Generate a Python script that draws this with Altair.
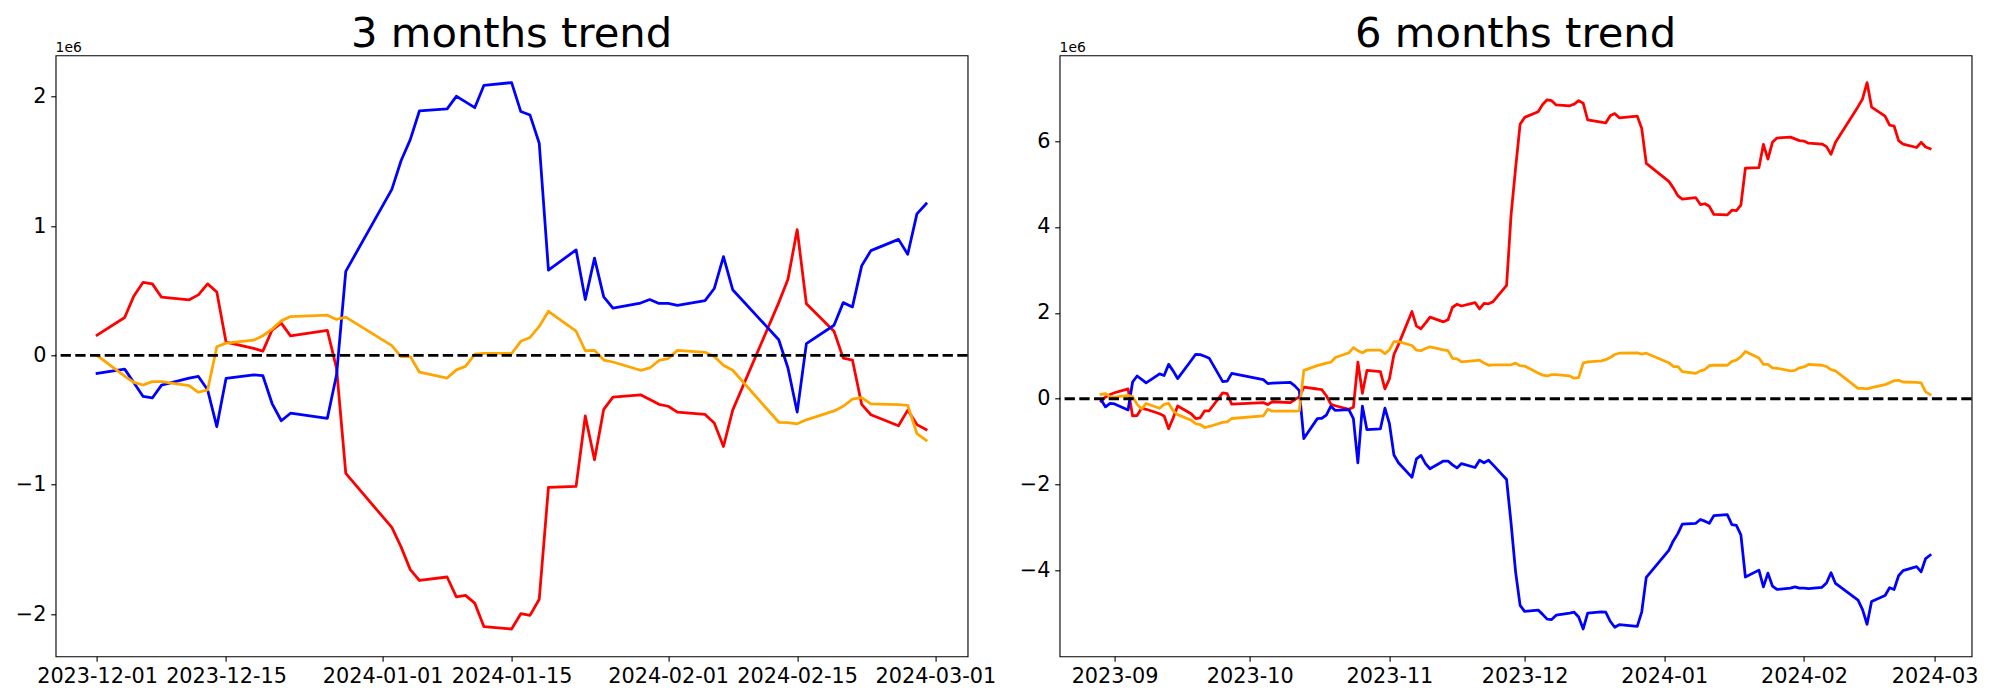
import altair as alt
import pandas as pd

# ---------------- 3 months panel ----------------
dates3 = ["2023-12-01", "2023-12-04", "2023-12-05", "2023-12-06", "2023-12-07", "2023-12-08",
          "2023-12-11", "2023-12-12", "2023-12-13", "2023-12-14", "2023-12-15", "2023-12-18",
          "2023-12-19", "2023-12-20", "2023-12-21", "2023-12-22", "2023-12-26", "2023-12-27",
          "2023-12-28",
          "2024-01-02", "2024-01-03", "2024-01-04", "2024-01-05", "2024-01-08", "2024-01-09",
          "2024-01-10", "2024-01-11", "2024-01-12", "2024-01-15", "2024-01-16", "2024-01-17",
          "2024-01-18", "2024-01-19", "2024-01-22", "2024-01-23", "2024-01-24", "2024-01-25",
          "2024-01-26", "2024-01-29", "2024-01-30", "2024-01-31",
          "2024-02-01", "2024-02-02", "2024-02-05", "2024-02-06", "2024-02-07", "2024-02-08",
          "2024-02-13", "2024-02-14", "2024-02-15", "2024-02-16", "2024-02-19", "2024-02-20",
          "2024-02-21", "2024-02-22", "2024-02-23", "2024-02-26", "2024-02-27", "2024-02-28",
          "2024-02-29"]
red3 = [0.157, 0.293, 0.46, 0.565, 0.553, 0.45, 0.43, 0.468, 0.553, 0.49, 0.103, 0.054,
        0.033, 0.196, 0.25, 0.151, 0.193, -0.10, -0.912,
        -1.33, -1.48, -1.656, -1.74, -1.713, -1.867, -1.855, -1.915, -2.097, -2.115, -1.997,
        -2.01, -1.885, -1.021, -1.012, -0.468, -0.807, -0.417, -0.323, -0.305, -0.341, -0.378,
        -0.393, -0.438, -0.456, -0.523, -0.704, -0.423, 0.408, 0.589, 0.973, 0.399, 0.187,
        -0.021, -0.036, -0.378, -0.459, -0.544, -0.423, -0.535, -0.574]
blue3 = [-0.139, -0.106, -0.211, -0.317, -0.329, -0.23, -0.175, -0.163, -0.266, -0.55, -0.178,
         -0.151, -0.157, -0.372, -0.505, -0.447, -0.486, -0.15, 0.65,
         1.284, 1.505, 1.668, 1.891, 1.906, 2.003, 1.96, 1.915, 2.088, 2.109, 1.885, 1.858,
         1.64, 0.659, 0.816, 0.432, 0.752, 0.453, 0.366, 0.405, 0.432, 0.402,
         0.402, 0.387, 0.423, 0.517, 0.764, 0.508, 0.121, -0.097, -0.438, 0.091, 0.233, 0.408,
         0.375, 0.692, 0.81, 0.897, 0.782, 1.094, 1.172]
orange3 = [0.0, -0.16, -0.208, -0.229, -0.203, -0.203, -0.234, -0.285, -0.267, 0.067, 0.095,
           0.118, 0.152, 0.203, 0.267, 0.30, 0.311, 0.278, 0.296,
           0.076, -0.009, -0.009, -0.13, -0.175, -0.112, -0.085, 0.009, 0.015, 0.015, 0.109,
           0.139, 0.224, 0.341, 0.187, 0.036, 0.039, -0.036, -0.051, -0.115, -0.097, -0.039,
           -0.024, 0.039, 0.024, -0.009, -0.076, -0.115, -0.517, -0.52, -0.529, -0.498, -0.429,
           -0.393, -0.338, -0.326, -0.375, -0.381, -0.387, -0.604, -0.656]

# ---------------- 6 months panel ----------------
dates6 = ["2023-08-29", "2023-08-30", "2023-08-31", "2023-09-01", "2023-09-04", "2023-09-05",
          "2023-09-06", "2023-09-07", "2023-09-08", "2023-09-11", "2023-09-12", "2023-09-13",
          "2023-09-14", "2023-09-15", "2023-09-18", "2023-09-19", "2023-09-20", "2023-09-21",
          "2023-09-22", "2023-09-25", "2023-09-26", "2023-09-27", "2023-10-04", "2023-10-05",
          "2023-10-06", "2023-10-10", "2023-10-11", "2023-10-12", "2023-10-13", "2023-10-16",
          "2023-10-17", "2023-10-18", "2023-10-19", "2023-10-20", "2023-10-23", "2023-10-24",
          "2023-10-25", "2023-10-26", "2023-10-27", "2023-10-30", "2023-10-31", "2023-11-01",
          "2023-11-02", "2023-11-03", "2023-11-06", "2023-11-07", "2023-11-08", "2023-11-09",
          "2023-11-10", "2023-11-13", "2023-11-14", "2023-11-15", "2023-11-16", "2023-11-17",
          "2023-11-20", "2023-11-21", "2023-11-22", "2023-11-23", "2023-11-24", "2023-11-27",
          "2023-11-28", "2023-11-29", "2023-11-30"] + dates3
red6 = [-0.06, 0.04, 0.10, 0.14, 0.23, -0.40, -0.39, -0.22, -0.245, -0.35, -0.40, -0.70,
        -0.45, -0.17, -0.35, -0.46, -0.445, -0.28, -0.28, 0.136, 0.118, -0.127, -0.09, -0.136,
        -0.07, -0.09, -0.02, 0.045, 0.27, 0.227, 0.21, 0.07, -0.127, -0.163, -0.245, -0.20,
        0.854, 0.127, 0.66, 0.63, 0.23, 0.46, 1.03, 1.26, 2.03, 1.69, 1.63, 1.76, 1.90, 1.79,
        1.84, 2.13, 2.20, 2.16, 2.24, 2.09, 2.22, 2.21, 2.26, 2.64, 4.28, 5.37, 6.39,
        6.55, 6.68, 6.85, 6.96, 6.94, 6.84, 6.82, 6.86, 6.94, 6.88, 6.49, 6.44, 6.42, 6.59,
        6.64, 6.54, 6.58, 6.29, 5.48,
        5.06, 4.91, 4.73, 4.65, 4.68, 4.52, 4.54, 4.48, 4.29, 4.28, 4.39, 4.38, 4.51, 5.37,
        5.38, 5.92, 5.58, 5.97, 6.07, 6.09, 6.05, 6.01,
        6.00, 5.95, 5.93, 5.87, 5.69, 5.97, 6.80, 6.98, 7.36, 6.79, 6.58, 6.37, 6.35, 6.01,
        5.93, 5.85, 5.97, 5.86, 5.82]
blue6 = [-0.02, -0.19, -0.11, -0.12, -0.26, 0.39, 0.53, 0.45, 0.37, 0.58, 0.54, 0.80, 0.65,
         0.47, 0.89, 1.035, 1.026, 0.99, 0.945, 0.40, 0.41, 0.59, 0.445, 0.354, 0.363, 0.38,
         0.30, 0.19, -0.926, -0.463, -0.454, -0.381, -0.173, -0.272, -0.254, -0.463, -1.49,
         -0.173, -0.72, -0.70, -0.22, -0.58, -1.31, -1.49, -1.83, -1.40, -1.32, -1.51, -1.63,
         -1.45, -1.45, -1.54, -1.61, -1.51, -1.60, -1.43, -1.49, -1.43, -1.54, -1.88, -2.90,
         -4.03, -4.81,
         -4.95, -4.92, -5.02, -5.13, -5.14, -5.04, -4.99, -4.97, -5.08, -5.36, -4.99, -4.96,
         -4.97, -5.18, -5.32, -5.26, -5.30, -4.96, -4.16,
         -3.53, -3.31, -3.14, -2.92, -2.90, -2.81, -2.85, -2.90, -2.72, -2.70, -2.93, -2.95,
         -3.17, -4.15, -3.99, -4.38, -4.06, -4.36, -4.44, -4.41, -4.38, -4.41,
         -4.41, -4.42, -4.39, -4.29, -4.05, -4.30, -4.69, -4.91, -5.25, -4.72, -4.58, -4.40,
         -4.44, -4.12, -4.00, -3.91, -4.03, -3.72, -3.64]
orange6 = [0.10, 0.12, 0.05, 0.04, 0.08, 0.05, -0.13, -0.24, -0.11, -0.22, -0.13, -0.11,
           -0.28, -0.37, -0.50, -0.58, -0.60, -0.67, -0.645, -0.55, -0.54, -0.46, -0.40,
           -0.245, -0.29, -0.29, -0.29, -0.28, 0.66, 0.77, 0.80, 0.83, 0.85, 0.96, 1.07, 1.19,
           1.12, 1.07, 1.13, 1.13, 1.05, 1.14, 1.33, 1.33, 1.24, 1.13, 1.12, 1.17, 1.21, 1.14,
           1.12, 0.94, 0.93, 0.86, 0.89, 0.90, 0.83, 0.78, 0.79, 0.79, 0.79, 0.83, 0.77,
           0.76, 0.60, 0.55, 0.53, 0.56, 0.56, 0.53, 0.48, 0.49, 0.83, 0.86, 0.88, 0.91, 0.96,
           1.03, 1.06, 1.07, 1.04, 1.06,
           0.84, 0.75, 0.75, 0.63, 0.59, 0.65, 0.68, 0.77, 0.78, 0.78, 0.87, 0.90, 0.98, 1.10,
           0.95, 0.80, 0.80, 0.72, 0.71, 0.65, 0.66, 0.72,
           0.74, 0.80, 0.78, 0.75, 0.68, 0.65, 0.24, 0.24, 0.23, 0.26, 0.33, 0.37, 0.42, 0.43,
           0.39, 0.38, 0.37, 0.16, 0.10]

series_names = ["red", "blue", "orange"]
series_colors = ["red", "blue", "orange"]

ticks3 = [(2023, 12, 1), (2023, 12, 15), (2024, 1, 1), (2024, 1, 15), (2024, 2, 1),
          (2024, 2, 15), (2024, 3, 1)]
ticks6 = [(2023, 9, 1), (2023, 10, 1), (2023, 11, 1), (2023, 12, 1), (2024, 1, 1),
          (2024, 2, 1), (2024, 3, 1)]
yticks3 = [-2, -1, 0, 1, 2]
yticks6 = [-4, -2, 0, 2, 4, 6]

FONT = "DejaVu Sans"
W, H = 912, 601


def dt(y, m, d, h=0, mi=0):
    return alt.DateTime(year=y, month=m, date=d, hours=h, minutes=mi, utc=True)


def panel(dates, red, blue, orange, title, xdom, xticks, xfmt, ydom, yticks):
    n = len(dates)
    df = pd.DataFrame({
        "date": dates * 3,
        "v": red + blue + orange,
        "s": ["red"] * n + ["blue"] * n + ["orange"] * n,
    })
    x = alt.X("date:T",
              scale=alt.Scale(type="utc", domain=xdom, nice=False),
              axis=alt.Axis(values=[dt(*t) for t in xticks], format=xfmt, title=None))
    y = alt.Y("v:Q",
              scale=alt.Scale(domain=ydom, nice=False, zero=False),
              axis=alt.Axis(values=yticks, format="d", title=None))
    base = alt.Chart(df)
    layers = []
    for name, col in zip(series_names, series_colors):
        layers.append(
            base.transform_filter(alt.datum.s == name)
            .mark_line(color=col, strokeWidth=2.78, strokeJoin="round", strokeCap="square")
            .encode(x=x, y=y)
        )
    zero = alt.Chart(pd.DataFrame({"z": [0]})).mark_rule(
        color="black", strokeWidth=2.78, strokeDash=[10.3, 4.4]
    ).encode(y=alt.datum(0))
    off = alt.Chart(pd.DataFrame({"t": ["1e6"]})).mark_text(
        align="left", baseline="alphabetic", fontSize=13.9, font=FONT, color="black"
    ).encode(x=alt.value(0), y=alt.value(-3), text="t:N")
    ttl = alt.Chart(pd.DataFrame({"t": [title]})).mark_text(
        align="center", baseline="alphabetic", fontSize=41.7, font=FONT, color="black"
    ).encode(x=alt.value(W / 2), y=alt.value(-8.3), text="t:N")
    return alt.layer(*layers, zero, off, ttl).properties(width=W, height=H)


left = panel(dates3, red3, blue3, orange3, "3 months trend",
             [dt(2023, 11, 26, 12), dt(2024, 3, 4, 12)], ticks3, "%Y-%m-%d",
             [-2.326, 2.32], yticks3)
right = panel(dates6, red6, blue6, orange6, "6 months trend",
              [dt(2023, 8, 19, 19, 12), dt(2024, 3, 9, 4, 48)], ticks6, "%Y-%m",
              [-5.996, 7.996], yticks6)

chart = alt.hconcat(left, right, spacing=92, bounds="flush").properties(
    padding={"left": 6.6, "top": 5.3, "right": 5, "bottom": 5},
    background="white",
).configure_view(
    stroke="black", strokeWidth=1.11
).configure_axis(
    domain=False, grid=False, tickColor="black", tickWidth=1.11, tickSize=4.86,
    labelFont=FONT, labelFontSize=20.8, labelColor="black", labelPadding=4.86,
    labelFlush=False, labelOverlap=False
)

chart.save("out.html", embed_options={"renderer": "svg", "actions": False})
